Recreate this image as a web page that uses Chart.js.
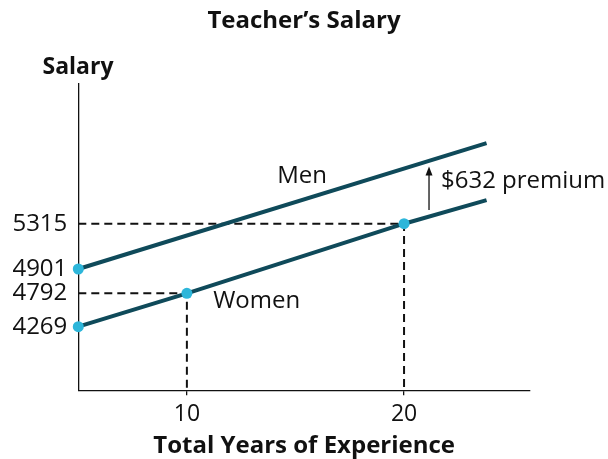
<!DOCTYPE html>
<html>
<head>
<meta charset="utf-8">
<style>
  html, body { margin: 0; padding: 0; background: #fff; }
  #c { display: block; }
</style>
<script src="https://cdn.jsdelivr.net/npm/chart.js@4/dist/chart.umd.min.js"></script>
</head>
<body>
<canvas id="c" width="608" height="459"></canvas>
<script>
// ---- data ----
const xTicks = [10, 20];
const yTicks = [4269, 4792, 4901, 5315];

const womenYears  = [5, 10, 20, 23.8];
const womenSalary = [4269, 4792, 5315, 5530];
const menYears    = [5, 23.8];
const menSalary   = [4901, 6050];

const chartTitle = 'Teacher’s Salary';
const premiumText = '$632 premium';

// ---- a schematic (not-to-scale) salary axis ----
// value -> fraction of axis height, interpolated piecewise
const salaryAxisKnots = [
  [3270, 0], [4269, 0.2076], [4792, 0.3167], [4901, 0.396], [5315, 0.5439], [6590, 1]
];
function warp(v) {
  const k = salaryAxisKnots;
  let i = 0;
  if (v <= k[0][0]) i = 0;
  else if (v >= k[k.length - 1][0]) i = k.length - 2;
  else while (i < k.length - 2 && v > k[i + 1][0]) i++;
  const [v0, d0] = k[i], [v1, d1] = k[i + 1];
  return d0 + (v - v0) * (d1 - d0) / (v1 - v0);
}
function unwarp(d) {
  const k = salaryAxisKnots;
  let i = 0;
  if (d <= k[0][1]) i = 0;
  else if (d >= k[k.length - 1][1]) i = k.length - 2;
  else while (i < k.length - 2 && d > k[i + 1][1]) i++;
  const [v0, d0] = k[i], [v1, d1] = k[i + 1];
  return v0 + (d - d0) * (v1 - v0) / (d1 - d0);
}
class SchematicScale extends Chart.LinearScale {
  getPixelForValue(value) {
    return this.getPixelForDecimal(warp(value));
  }
  getValueForPixel(pixel) {
    return unwarp(this.getDecimalForPixel(pixel));
  }
}
SchematicScale.id = 'schematic';
SchematicScale.defaults = Chart.LinearScale.defaults;
Chart.register(SchematicScale);

// ---- styling ----
const LINE = '#0f4a5a';
const DOT = '#2db6da';
const INK = '#111';
const FONT = "'Open Sans', 'Noto Sans', sans-serif";
const Y_MIN = salaryAxisKnots[0][0];
const Y_MAX = salaryAxisKnots[salaryAxisKnots.length - 1][0];

const pts = (xs, ys) => xs.map((x, i) => ({ x, y: ys[i] }));
const markerRadius = (n, marked) => Array.from({ length: n }, (_, i) => (marked.includes(i) ? 5.5 : 0));

// guide from the y axis to a point and down to the x axis
const guide = (x, y) => ({
  data: [{ x: 5, y }, { x, y }, { x, y: Y_MIN }],
  borderColor: INK, borderWidth: 2, borderDash: [8, 5],
  pointRadius: 0, fill: false, clip: false, tension: 0
});

// headings, annotation labels and the premium arrow
const annotations = {
  id: 'annotations',
  afterDatasetsDraw(chart) {
    const { ctx, scales: { x, y } } = chart;
    ctx.save();
    ctx.fillStyle = INK;
    ctx.textBaseline = 'alphabetic';

    ctx.font = `bold 24px ${FONT}`;
    ctx.textAlign = 'center';
    ctx.fillText(chartTitle, chart.width / 2, 27.5);

    ctx.font = `bold 23px ${FONT}`;
    ctx.textAlign = 'left';
    ctx.fillText('Salary', 42.5, 73.5);

    ctx.font = `24px ${FONT}`;
    ctx.fillText('Men', x.getPixelForValue(14.16), y.getPixelForValue(5684));
    ctx.fillText('Women', x.getPixelForValue(11.21), y.getPixelForValue(4557));
    ctx.fillText(premiumText, x.getPixelForValue(21.7), y.getPixelForValue(5641));

    // arrow pointing from the women's line up to the men's line
    const ax = x.getPixelForValue(21.15);
    const y0 = y.getPixelForValue(5440);
    const y1 = y.getPixelForValue(5836);
    ctx.strokeStyle = INK;
    ctx.lineWidth = 1.3;
    ctx.beginPath();
    ctx.moveTo(ax, y0);
    ctx.lineTo(ax, y1 + 6);
    ctx.stroke();
    ctx.beginPath();
    ctx.moveTo(ax, y1);
    ctx.lineTo(ax - 3.5, y1 + 9);
    ctx.lineTo(ax + 3.5, y1 + 9);
    ctx.closePath();
    ctx.fill();
    ctx.restore();
  }
};

new Chart(document.getElementById('c'), {
  type: 'line',
  data: {
    datasets: [
      {
        label: 'Men',
        data: pts(menYears, menSalary),
        borderColor: LINE, borderWidth: 4,
        pointRadius: markerRadius(menYears.length, [0]),
        pointBackgroundColor: DOT, pointBorderWidth: 0,
        fill: false, clip: false, tension: 0
      },
      {
        label: 'Women',
        data: pts(womenYears, womenSalary),
        borderColor: LINE, borderWidth: 4,
        pointRadius: markerRadius(womenYears.length, [0, 1, 2]),
        pointBackgroundColor: DOT, pointBorderWidth: 0,
        fill: false, clip: false, tension: 0
      },
      guide(womenYears[2], womenSalary[2]),
      guide(womenYears[1], womenSalary[1])
    ]
  },
  options: {
    responsive: false,
    animation: false,
    events: [],
    layout: { padding: { top: 84, right: 78, bottom: 0, left: 0 } },
    plugins: {
      legend: { display: false },
      tooltip: { enabled: false },
      title: { display: false }
    },
    scales: {
      x: {
        type: 'linear',
        min: 5, max: 25.8,
        afterBuildTicks: s => { s.ticks = xTicks.map(v => ({ value: v })); },
        afterFit: s => { s.height = 68.7; },
        ticks: { color: INK, font: { family: FONT, size: 23 }, padding: 5, callback: v => String(v) },
        grid: { display: true, drawOnChartArea: false, drawTicks: true, tickLength: 5, color: INK, lineWidth: 1.3 },
        border: { display: true, color: INK, width: 1.3 },
        title: {
          display: true,
          text: 'Total Years of Experience',
          color: INK,
          font: { family: FONT, size: 24, weight: 'bold' },
          padding: { top: 0, bottom: -1.5 }
        }
      },
      y: {
        type: 'schematic',
        min: Y_MIN, max: Y_MAX,
        afterBuildTicks: s => { s.ticks = yTicks.map(v => ({ value: v })); },
        afterFit: s => { s.width = 78.3; },
        ticks: { color: INK, font: { family: FONT, size: 24 }, padding: 11, callback: v => String(v) },
        grid: { display: false, drawTicks: false },
        border: { display: true, color: INK, width: 1.3 }
      }
    }
  },
  plugins: [annotations]
});
</script>
</body>
</html>
